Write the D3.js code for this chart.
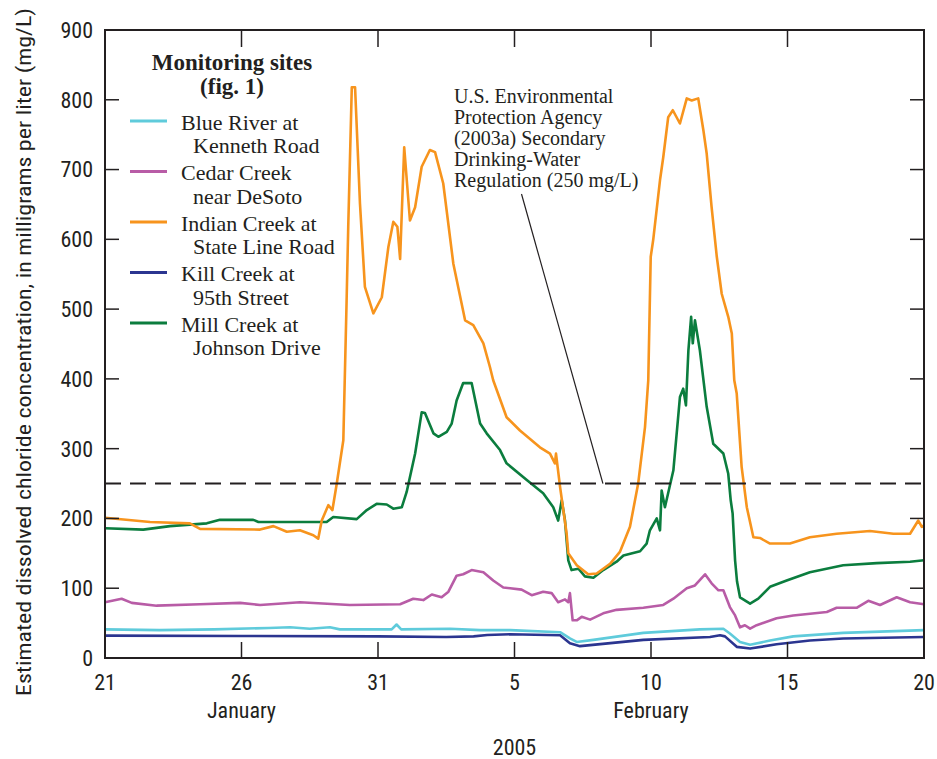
<!DOCTYPE html>
<html>
<head>
<meta charset="utf-8">
<script src="https://cdn.jsdelivr.net/npm/d3@7"></script>
<style>
  body { margin: 0; background: #fff; }
  .sans { font-family: "Liberation Sans Narrow", "Roboto Condensed", Roboto, "DejaVu Sans", sans-serif; }
  .serif { font-family: "Liberation Serif", "DejaVu Serif", serif; }
</style>
</head>
<body>
<svg id="chart" width="937" height="759"></svg>
<script>
// day offsets from January 21, 2005 -> estimated chloride (mg/L)
var blueRiver = [[0,41],[2,40],[4,41],[6,43],[6.78,44],[7.5,42],[8.24,44],[8.6,41],[10.5,41],[10.68,48],[10.85,41],[12.64,42],[13.74,40],[14.84,40],[16.67,37],[17.03,28],[17.28,23],[17.89,26],[19.72,36],[21.79,41],[22.65,42],[22.89,35],[23.26,23],[23.63,19],[24.36,25],[25.21,31],[27.04,36],[30,40]];
var cedarCreek = [[0,80],[0.61,85],[0.98,79],[1.89,75],[3.48,77],[4.95,79],[5.68,76],[7.14,80],[8.97,76],[10.81,77],[11.29,85],[11.66,83],[11.97,91],[12.33,87],[12.58,95],[12.88,118],[13.12,120],[13.43,126],[13.86,123],[14.22,111],[14.59,101],[14.84,100],[15.26,98],[15.63,90],[16.05,95],[16.36,93],[16.6,80],[16.85,84],[16.97,80],[17.03,93],[17.13,54],[17.28,54],[17.46,59],[17.77,55],[18.25,64],[18.74,69],[19.72,72],[20.45,76],[20.82,85],[21.31,100],[21.61,104],[21.98,120],[22.22,107],[22.47,97],[22.65,97],[22.89,73],[23.08,61],[23.26,44],[23.44,47],[23.63,42],[23.87,47],[24.6,57],[25.21,61],[26.44,66],[26.8,72],[27.53,72],[27.96,82],[28.39,76],[29,87],[29.49,80],[30,77]];
var indianCreek = [[0,201],[1.65,195],[3.11,193],[3.48,185],[5.68,184],[6.17,189],[6.66,181],[7.14,183],[7.63,176],[7.81,171],[7.94,197],[8.18,219],[8.33,212],[8.49,250],[8.73,312],[8.85,512],[8.91,618],[9.04,818],[9.16,818],[9.34,651],[9.52,532],[9.83,494],[10.14,517],[10.38,589],[10.56,625],[10.71,618],[10.81,572],[10.96,732],[11.17,627],[11.36,646],[11.6,704],[11.9,728],[12.09,725],[12.39,680],[12.76,565],[13.19,484],[13.49,477],[13.86,451],[14.1,417],[14.22,398],[14.71,345],[15.2,326],[15.93,302],[16.3,293],[16.48,279],[16.52,293],[16.67,245],[16.91,178],[16.97,150],[17.28,133],[17.7,120],[18.01,121],[18.5,135],[18.86,152],[19.23,188],[19.53,250],[19.78,331],[19.9,398],[19.99,575],[20.08,599],[20.33,685],[20.45,718],[20.63,775],[20.8,785],[21.06,766],[21.31,802],[21.49,799],[21.73,802],[21.92,756],[22.04,723],[22.22,646],[22.41,575],[22.59,522],[22.83,489],[22.96,465],[23.05,398],[23.14,379],[23.32,274],[23.51,216],[23.75,173],[23.99,172],[24.36,164],[25.09,164],[25.82,173],[26.8,178],[28.02,182],[28.88,178],[29.49,178],[29.79,197],[29.92,188],[30,190]];
var killCreek = [[0,32],[5,31.5],[10,31],[12.5,30],[13.5,31],[14,33],[14.84,34],[16.67,32.5],[17.03,21],[17.4,17],[19.72,26],[22.16,30],[22.53,32.5],[22.71,31],[23.14,16],[23.63,13.5],[24.6,19.6],[25.82,25],[27.04,28],[30,30]];
var millCreek = [[0,186],[1.4,184],[2.38,189],[3.73,193],[4.21,198],[5.43,198],[5.62,195],[8.12,195],[8.36,202],[9.22,199],[9.59,212],[9.95,221],[10.32,220],[10.56,214],[10.87,216],[11.05,238],[11.36,293],[11.6,352],[11.72,351],[12.03,322],[12.21,317],[12.52,324],[12.7,336],[12.88,369],[13.12,394],[13.43,394],[13.74,336],[13.98,322],[14.47,298],[14.71,279],[15.45,255],[16.05,236],[16.42,216],[16.6,197],[16.73,226],[16.85,197],[16.97,140],[17.09,126],[17.34,128],[17.58,117],[17.89,115],[18.25,126],[18.74,138],[18.99,147],[19.6,153],[19.84,164],[19.96,183],[20.21,200],[20.33,183],[20.39,240],[20.51,216],[20.82,269],[21.06,374],[21.18,386],[21.28,362],[21.37,441],[21.47,489],[21.53,451],[21.61,484],[21.79,441],[22.04,360],[22.28,307],[22.65,293],[22.83,264],[22.92,226],[22.99,207],[23.08,140],[23.15,110],[23.26,87],[23.63,78],[23.93,85],[24.36,102],[24.97,111],[25.82,123],[27.04,133],[28.27,136],[29.49,138],[30,140]];

var siteNames = [["Blue River at", "Kenneth Road"], ["Cedar Creek", "near DeSoto"], ["Indian Creek at", "State Line Road"], ["Kill Creek at", "95th Street"], ["Mill Creek at", "Johnson Drive"]];
var siteColors = ["#5fcbdb", "#b85ca6", "#f7941d", "#2b3590", "#0b7d3e"];
var siteData = [blueRiver, cedarCreek, indianCreek, killCreek, millCreek];
var drawOrder = [3, 0, 1, 4, 2];

var yTicks = [0, 100, 200, 300, 400, 500, 600, 700, 800, 900];
var xTickDays = [0, 5, 10, 15, 20, 25, 30];
var xTickLabels = ["21", "26", "31", "5", "10", "15", "20"];
var monthLabels = [["January", 5], ["February", 20]];
var secondaryLimit = 250;
var noteLines = ["U.S. Environmental", "Protection Agency", "(2003a) Secondary", "Drinking-Water", "Regulation (250 mg/L)"];

var startDate = new Date(2005, 0, 21);
function toDate(d) { return new Date(startDate.getTime() + d * 864e5); }

var margin = { top: 30, right: 13, bottom: 101, left: 105 };
var svg = d3.select("#chart");
var width = 937 - margin.left - margin.right;
var height = 759 - margin.top - margin.bottom;
var ink = "#231f20";

var g = svg.append("g").attr("transform", "translate(" + margin.left + "," + margin.top + ")");

var x = d3.scaleTime().domain([toDate(0), toDate(30)]).range([0, width]);
var y = d3.scaleLinear().domain([0, 900]).range([height, 0]);

var line = d3.line()
    .x(function(d) { return x(toDate(d[0])); })
    .y(function(d) { return y(d[1]); });

// data lines
drawOrder.forEach(function(i) {
    g.append("path")
        .datum(siteData[i])
        .attr("fill", "none")
        .attr("stroke", siteColors[i])
        .attr("stroke-width", 2.6)
        .attr("stroke-linejoin", "round")
        .attr("d", line);
});

// 250 mg/L dashed line
g.append("line")
    .attr("x1", 0).attr("x2", width)
    .attr("y1", y(secondaryLimit)).attr("y2", y(secondaryLimit))
    .attr("stroke", ink).attr("stroke-width", 2)
    .attr("stroke-dasharray", "16,9");

// ticks (inward) on all four sides
var inner = xTickDays.slice(1, -1);
inner.forEach(function(d) {
    var xx = x(toDate(d));
    g.append("line").attr("x1", xx).attr("x2", xx).attr("y1", height).attr("y2", height - 16).attr("stroke", ink).attr("stroke-width", 1.5);
    g.append("line").attr("x1", xx).attr("x2", xx).attr("y1", 0).attr("y2", 17).attr("stroke", ink).attr("stroke-width", 1.5);
});
yTicks.slice(1, -1).forEach(function(v) {
    g.append("line").attr("x1", 0).attr("x2", 14).attr("y1", y(v)).attr("y2", y(v)).attr("stroke", ink).attr("stroke-width", 1.5);
    g.append("line").attr("x1", width).attr("x2", width - 14).attr("y1", y(v)).attr("y2", y(v)).attr("stroke", ink).attr("stroke-width", 1.5);
});

// frame
g.append("rect")
    .attr("width", width).attr("height", height)
    .attr("fill", "none").attr("stroke", ink).attr("stroke-width", 2);

// y tick labels
g.selectAll(".ylab")
    .data(yTicks)
    .enter().append("text")
    .attr("class", "sans")
    .attr("x", -12)
    .attr("y", function(d) { return y(d); })
    .attr("dy", "0.36em")
    .attr("text-anchor", "end")
    .attr("font-size", 22)
    .attr("fill", ink)
    .text(function(d) { return d; });

// x tick labels
g.selectAll(".xlab")
    .data(xTickDays)
    .enter().append("text")
    .attr("class", "sans")
    .attr("x", function(d) { return x(toDate(d)); })
    .attr("y", height + 32)
    .attr("text-anchor", "middle")
    .attr("font-size", 22)
    .attr("fill", ink)
    .text(function(d, i) { return xTickLabels[i]; });

monthLabels.forEach(function(m) {
    g.append("text")
        .attr("class", "sans")
        .attr("x", x(toDate(m[1])))
        .attr("y", height + 60)
        .attr("text-anchor", "middle")
        .attr("font-size", 22)
        .attr("fill", ink)
        .text(m[0]);
});

g.append("text")
    .attr("class", "sans")
    .attr("x", width / 2)
    .attr("y", height + 97)
    .attr("text-anchor", "middle")
    .attr("font-size", 22)
    .attr("fill", ink)
    .text("2005");

// y axis title
svg.append("text")
    .attr("class", "sans")
    .attr("transform", "translate(31,352) rotate(-90)")
    .attr("text-anchor", "middle")
    .attr("font-size", 21)
    .attr("fill", ink)
    .attr("textLength", 688)
    .attr("lengthAdjust", "spacingAndGlyphs")
    .text("Estimated dissolved chloride concentration, in milligrams per liter (mg/L)");

// legend
var legend = svg.append("g").attr("class", "serif").attr("fill", ink);
legend.append("text")
    .attr("x", 232).attr("y", 70)
    .attr("text-anchor", "middle")
    .attr("font-size", 23).attr("font-weight", "bold")
    .text("Monitoring sites");
legend.append("text")
    .attr("x", 232).attr("y", 94)
    .attr("text-anchor", "middle")
    .attr("font-size", 23).attr("font-weight", "bold")
    .text("(fig. 1)");

siteNames.forEach(function(n, i) {
    var top = 121 + i * 50.5;
    legend.append("line")
        .attr("x1", 130).attr("x2", 167)
        .attr("y1", top).attr("y2", top)
        .attr("stroke", siteColors[i]).attr("stroke-width", 3);
    legend.append("text")
        .attr("x", 181).attr("y", top + 8.5)
        .attr("font-size", 22)
        .text(n[0]);
    legend.append("text")
        .attr("x", 193).attr("y", top + 32)
        .attr("font-size", 22)
        .text(n[1]);
});

// annotation for secondary regulation
var note = svg.append("g").attr("class", "serif").attr("fill", ink);
noteLines.forEach(function(t, i) {
    note.append("text")
        .attr("x", 454).attr("y", 103 + i * 21)
        .attr("font-size", 20)
        .text(t);
});
svg.append("line")
    .attr("x1", 521.5).attr("y1", 194)
    .attr("x2", margin.left + x(toDate(18.24))).attr("y2", margin.top + y(secondaryLimit))
    .attr("stroke", ink).attr("stroke-width", 1.2);
</script>
</body>
</html>
